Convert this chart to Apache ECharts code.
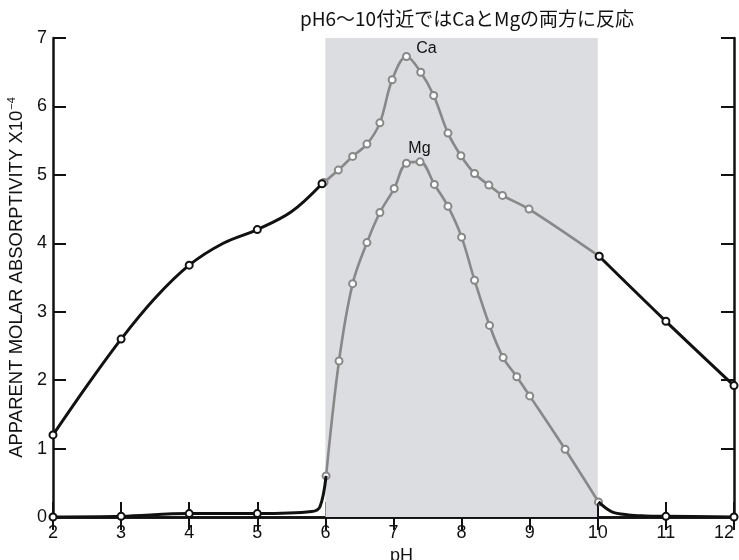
<!DOCTYPE html>
<html>
<head>
<meta charset="utf-8">
<script src="https://cdn.jsdelivr.net/npm/echarts@6/dist/echarts.min.js"></script>
<style>
  html, body { margin: 0; padding: 0; background: #fff; }
  #main { width: 739px; height: 560px; }
</style>
</head>
<body>
<div id="main"></div>
<script>
var chart = echarts.init(document.getElementById('main'));

// Ca curve: black below pH 6, gray in the 6-10 band, black above 10
// (points with false in the marks list are read off the drawn curve, no circle)
var caLowX = [2, 2.5, 3, 3.5, 4, 4.5, 5, 5.5, 5.95];
var caLowY = [1.2, 1.92, 2.6, 3.2, 3.68, 4.0, 4.2, 4.46, 4.87];
var caLowMarks = [true, false, true, false, true, false, true, false, true];
var caMidX = [5.98, 6.19, 6.40, 6.61, 6.80, 6.98, 7.19, 7.40, 7.59, 7.80, 7.99, 8.19, 8.40, 8.60, 8.99, 10.02];
var caMidY = [4.89, 5.07, 5.27, 5.45, 5.76, 6.39, 6.73, 6.50, 6.16, 5.61, 5.28, 5.02, 4.85, 4.70, 4.50, 3.81];
var caHighX = [10.02, 11, 12];
var caHighY = [3.81, 2.86, 1.92];

// Mg curve
var mgLowX = [2, 3, 4, 5, 5.8, 5.92, 6.01];
var mgLowY = [0, 0.01, 0.05, 0.05, 0.08, 0.15, 0.6];
var mgLowMarks = [true, true, true, true, false, false, false];
var mgMidX = [6.01, 6.20, 6.40, 6.61, 6.80, 7.01, 7.19, 7.39, 7.60, 7.80, 8.00, 8.19, 8.41, 8.61, 8.81, 9.00, 9.52, 10.01];
var mgMidY = [0.60, 2.28, 3.41, 4.01, 4.45, 4.80, 5.17, 5.19, 4.86, 4.54, 4.09, 3.46, 2.80, 2.33, 2.05, 1.77, 0.99, 0.22];
var mgHighX = [10.01, 10.2, 10.45, 10.7, 11, 12];
var mgHighY = [0.22, 0.08, 0.03, 0.015, 0.01, 0];
var mgHighMarks = [false, false, false, false, true, true];

var band = [6, 10];
var title = 'pH6〜10付近ではCaとMgの両方に反応';

var black = '#111111';
var gray = '#888888';

function pts(xs, ys, marks) {
    return xs.map(function (x, i) {
        var d = { value: [x, ys[i]] };
        if (marks && !marks[i]) d.symbol = 'none';
        return d;
    });
}

function line(data, color, extra) {
    var s = {
        type: 'line',
        data: data,
        smooth: 0.35,
        symbol: 'emptyCircle',
        symbolSize: 7,
        showAllSymbol: true,
        lineStyle: { color: color, width: color === black ? 3 : 2.6 },
        itemStyle: { color: color, borderColor: color, borderWidth: 1.6 },
        z: color === black ? 4 : 3,
        animation: false
    };
    for (var k in extra) s[k] = extra[k];
    return s;
}

var labelFont = { color: '#111', fontSize: 16, fontFamily: 'Liberation Sans' };
var caMid = pts(caMidX, caMidY);
caMid[6].label = Object.assign({ show: true, formatter: 'Ca', position: 'top', offset: [20, 10] }, labelFont);
var mgMid = pts(mgMidX, mgMidY);
mgMid[6].label = Object.assign({ show: true, formatter: 'Mg', position: 'top', offset: [13, 3] }, labelFont);

var tickStyle = { color: black, width: 2 };

var option = {
    backgroundColor: '#fff',
    title: {
        text: title,
        left: 462,
        textAlign: 'center',
        top: 4,
        textStyle: { color: '#111', fontSize: 19, fontWeight: 'normal', fontFamily: 'Noto Sans CJK JP' }
    },
    grid: { left: 53, right: 5, top: 38, bottom: 43, outerBoundsMode: 'none' },
    xAxis: [{
        type: 'value', min: 2, max: 12, interval: 1,
        name: 'pH', nameLocation: 'middle', nameGap: 26,
        nameTextStyle: { color: '#111', fontSize: 18, fontFamily: 'Liberation Sans', padding: [0, 0, 0, 16] },
        axisLine: { show: true, lineStyle: { color: black, width: 2.5 } },
        axisTick: { show: true, inside: true, length: 15, lineStyle: tickStyle },
        axisLabel: { margin: 7, color: '#111', fontSize: 18, fontFamily: 'Liberation Sans', alignMaxLabel: 'right' },
        splitLine: { show: false }
    }, {
        type: 'value', min: 2, max: 12, interval: 1, position: 'top',
        axisLine: { show: true, lineStyle: { color: black, width: 2.5 } },
        axisTick: { show: true, inside: true, length: 13, lineStyle: tickStyle },
        axisLabel: { show: false },
        splitLine: { show: false }
    }],
    yAxis: [{
        type: 'value', min: 0, max: 7, interval: 1,
        name: 'APPARENT MOLAR ABSORPTIVITY X10{sup|−4}',
        nameLocation: 'middle', nameGap: 20,
        nameTextStyle: {
            color: '#111', fontSize: 18.5, fontFamily: 'Liberation Sans',
            rich: { sup: { fontSize: 11, verticalAlign: 'top', padding: [0, 0, 9, 1], color: '#111', fontFamily: 'Liberation Sans' } }
        },
        axisLine: { show: true, lineStyle: { color: black, width: 2.5 } },
        axisTick: { show: true, inside: true, length: 13, lineStyle: tickStyle },
        axisLabel: { margin: 6, color: '#111', fontSize: 18, fontFamily: 'Liberation Sans' },
        splitLine: { show: false }
    }, {
        type: 'value', min: 0, max: 7, interval: 1, position: 'right',
        axisLine: { show: true, lineStyle: { color: black, width: 2.5 } },
        axisTick: { show: true, inside: true, length: 13, lineStyle: tickStyle },
        axisLabel: { show: false },
        splitLine: { show: false }
    }],
    series: [
        line(pts(caLowX, caLowY, caLowMarks), black, {
            markArea: {
                silent: true,
                itemStyle: { color: '#dcdde0' },
                data: [[{ xAxis: band[0] }, { xAxis: band[1] }]]
            }
        }),
        line(caMid, gray),
        line(caHighX.map(function (x, i) { return [x, caHighY[i]]; }), black),
        line(pts(mgLowX, mgLowY, mgLowMarks), black),
        line(mgMid, gray),
        line(pts(mgHighX, mgHighY, mgHighMarks), black),
        line([[10, 0], [10, 0.2]], black, { symbol: 'none', smooth: false, lineStyle: { color: black, width: 1.5 } })
    ]
};

chart.setOption(option);

window.addEventListener('resize', function () {
    chart.resize();
});
</script>
</body>
</html>
